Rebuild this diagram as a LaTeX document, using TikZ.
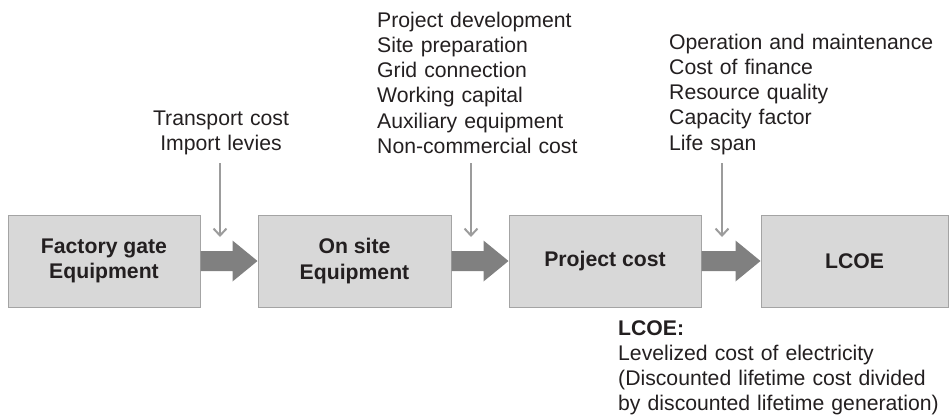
\documentclass[tikz,border=0pt]{standalone}
\usepackage{fontspec}
\setmainfont{Liberation Sans}
\usetikzlibrary{arrows.meta,calc}
\definecolor{boxfill}{HTML}{D8D8D8}
\definecolor{boxline}{HTML}{A4A4A4}
\definecolor{bigarr}{HTML}{808080}
\definecolor{thinarr}{HTML}{9C9C9C}
\definecolor{txt}{HTML}{231F20}
\newcommand\flowarrow[2]{%
  \fill[bigarr] ($(#1.east)+(0,-10)$) -- ($(#2.west)+(-25,-10)$) -- ($(#2.west)+(-25,-20.5)$)
    -- (#2.west) -- ($(#2.west)+(-25,20.5)$) -- ($(#2.west)+(-25,10)$) -- ($(#1.east)+(0,10)$) -- cycle;}
\begin{document}
\begin{tikzpicture}[x=1pt,y=-1pt,
  every node/.style={font=\fontsize{21.2}{25.3}\selectfont, text=txt},
  box/.style={draw=boxline, fill=boxfill, line width=1pt, minimum height=92pt, align=center, inner sep=0pt, font=\fontsize{21.2}{25.3}\selectfont\bfseries},
  listtext/.style={anchor=base west, inner sep=0pt, text width=#1, align=left},
  thin/.style={draw=thinarr, line width=2.2pt, -{Straight Barb[length=7pt,width=13pt,line width=2pt]}}
]
\useasboundingbox (0,0) rectangle (949,416);
% boxes
\node[box, minimum width=192pt] (b1) at (104,261) {Factory gate\\Equipment};
\node[box, minimum width=193pt] (b2) at (354.5,261) {On site\\Equipment};
\node[box, minimum width=192pt] (b3) at (605,261) {Project cost};
\node[box, minimum width=187pt] (b4) at (854.5,261) {LCOE};
% big arrows
\flowarrow{b1}{b2}
\flowarrow{b2}{b3}
\flowarrow{b3}{b4}
% texts
\node[anchor=base, inner sep=0pt, text width=160pt, align=center] (t1) at (221,125) {Transport cost\\Import levies};
\node[listtext=220pt] (t2) at (377,27) {Project development\\Site preparation\\Grid connection\\Working capital\\Auxiliary equipment\\Non-commercial cost};
\node[listtext=280pt] (t3) at (669,49) {Operation and maintenance\\Cost of finance\\Resource quality\\Capacity factor\\Life span};
\node[listtext=330pt, font=\fontsize{21.2}{25}\selectfont] (t4) at (618,335) {\textbf{LCOE:}\\Levelized cost of electricity\\(Discounted lifetime cost divided\\by discounted lifetime generation)};
% thin arrows
\coordinate (s1) at (220,163); \coordinate (e1) at (220,237);
\coordinate (s2) at (471,163); \coordinate (e2) at (471,237);
\coordinate (s3) at (722,163); \coordinate (e3) at (722,237);
\draw[thin] (s1) -- (e1);
\draw[thin] (s2) -- (e2);
\draw[thin] (s3) -- (e3);
\end{tikzpicture}
\end{document}
